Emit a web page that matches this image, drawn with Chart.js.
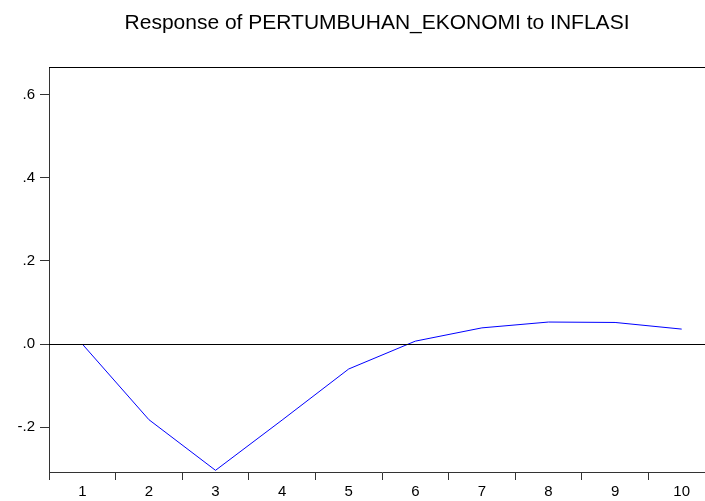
<!DOCTYPE html>
<html>
<head>
<meta charset="utf-8">
<script src="https://cdn.jsdelivr.net/npm/chart.js@4/dist/chart.umd.min.js"></script>
<style>
  html, body { margin: 0; padding: 0; background: #fff; overflow: hidden; width: 705px; height: 501px; }
  canvas { display: block; }
</style>
</head>
<body>
<canvas id="myChart" width="715" height="501"></canvas>
<script>
// periods after the shock
var periods = ["1", "2", "3", "4", "5", "6", "7", "8", "9", "10"];
// response of PERTUMBUHAN_EKONOMI to INFLASI
var response = [0.0, -0.182, -0.304, -0.183, -0.060, 0.007, 0.039, 0.053, 0.052, 0.036];
var yTicks = [-0.2, 0.0, 0.2, 0.4, 0.6];
var titleText = 'Response of PERTUMBUHAN_EKONOMI to INFLASI';

// title, box around the plot and the zero line
var frame = {
    id: 'frame',
    afterDraw: function(chart) {
        var a = chart.chartArea, c = chart.ctx;
        var y0 = chart.scales.y.getPixelForValue(0);
        c.save();
        c.strokeStyle = '#000';
        c.lineWidth = 1;
        c.beginPath();
        c.moveTo(a.left, Math.round(y0) + 0.5);
        c.lineTo(a.right, Math.round(y0) + 0.5);
        c.moveTo(a.left, Math.round(a.top) + 0.5);
        c.lineTo(a.right, Math.round(a.top) + 0.5);
        c.stroke();

        c.fillStyle = '#000';
        c.font = '21px "Liberation Sans", Arial, sans-serif';
        c.textAlign = 'center';
        c.textBaseline = 'alphabetic';
        c.fillText(titleText, 377, 29);
        c.restore();
    }
};

var ctx = document.getElementById('myChart').getContext('2d');
var chart = new Chart(ctx, {
    type: 'line',
    data: {
        labels: periods,
        datasets: [{
            data: response,
            borderColor: '#0000ff',
            borderWidth: 1,
            pointRadius: 0,
            tension: 0,
            fill: false
        }]
    },
    options: {
        responsive: false,
        animation: false,
        layout: { padding: { left: 0, right: 0, top: 67, bottom: 0 } },
        plugins: {
            legend: { display: false },
            tooltip: { enabled: false },
            title: { display: false }
        },
        scales: {
            x: {
                offset: true,
                grid: { offset: true, drawOnChartArea: false, tickLength: 8, color: '#333' },
                border: { color: '#333', width: 1 },
                ticks: {
                    color: '#000', padding: 3, maxRotation: 0,
                    font: { family: 'Liberation Sans, Arial, sans-serif', size: 15 }
                },
                afterFit: function(s) { s.height = 29; }
            },
            y: {
                min: -0.308,
                max: 0.667,
                grid: { drawOnChartArea: false, tickLength: 9, color: '#333' },
                border: { color: '#333', width: 1 },
                afterBuildTicks: function(s) {
                    s.ticks = yTicks.map(function(v) { return { value: v }; });
                },
                ticks: {
                    color: '#000', padding: 5,
                    font: { family: 'Liberation Sans, Arial, sans-serif', size: 15 },
                    callback: function(v) { return v.toFixed(1).replace('0.', '.'); }
                },
                afterFit: function(s) { s.width = 49; }
            }
        }
    },
    plugins: [frame]
});
</script>
</body>
</html>
